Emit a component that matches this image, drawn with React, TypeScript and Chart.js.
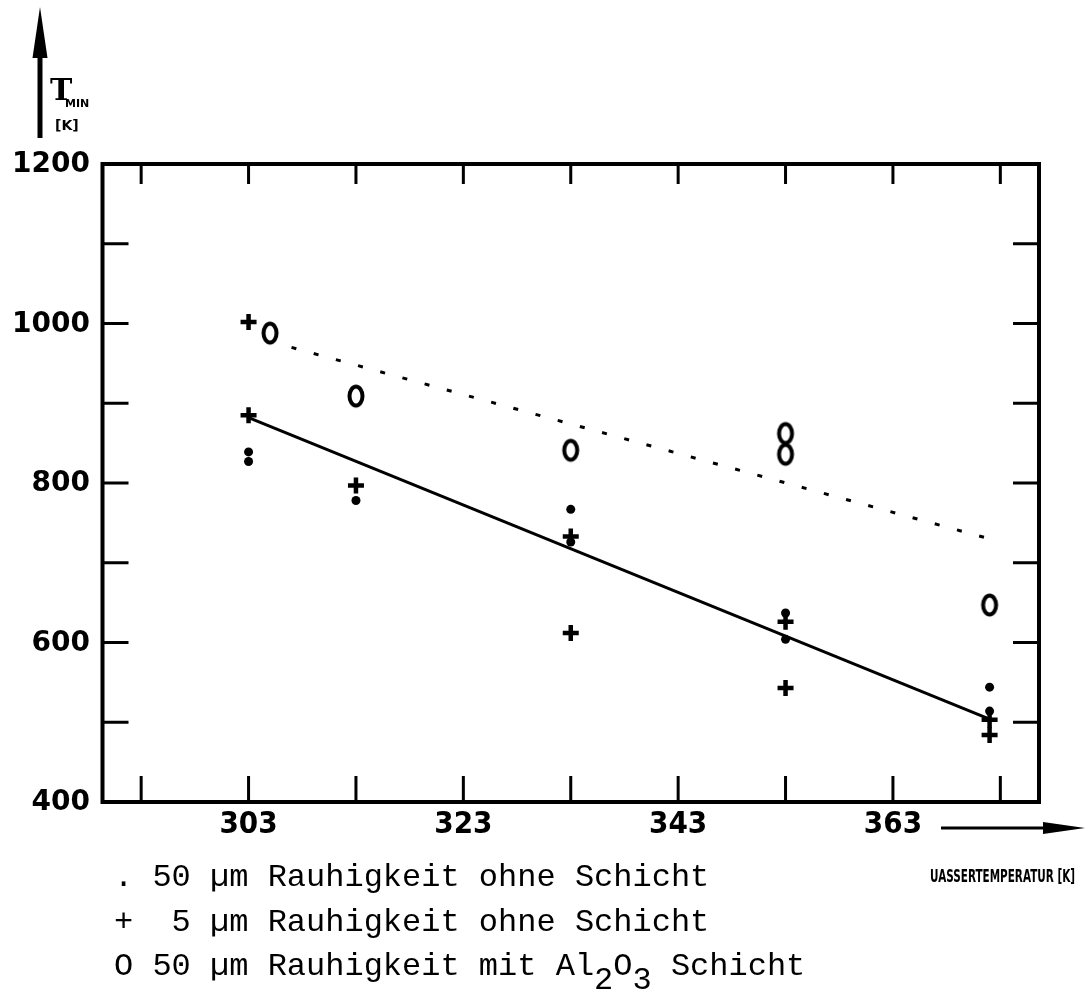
import { useEffect, useRef } from "react";
import { Chart, registerables } from "chart.js";

Chart.register(...registerables);

const W = 1085;
const H = 989;

// Axis ticks (inner tick marks) and labelled values
const xTickMarks = [293, 303, 313, 323, 333, 343, 353, 363, 373];
const xTickLabels = [303, 323, 343, 363];
const yTickMarks = [500, 600, 700, 800, 900, 1000, 1100];
const yTickLabels = [400, 600, 800, 1000, 1200];

// 50 µm Rauhigkeit ohne Schicht (dots)
const rough50X = [303, 303, 313, 333, 333, 353, 353, 372, 372];
const rough50Y = [839, 827, 778, 767, 726, 637, 604, 544, 514];

// 5 µm Rauhigkeit ohne Schicht (crosses)
const rough5X = [303, 303, 313, 333, 333, 353, 353, 372, 372];
const rough5Y = [1002, 885, 797, 733, 612, 626, 543, 503, 484];

// 50 µm Rauhigkeit mit Al2O3 Schicht (rings)
const coatedX = [305, 313, 333, 353, 353, 372];
const coatedY = [988, 909, 841, 862, 836, 647];

// Fitted trend lines
const fitSolidX = [303, 372];
const fitSolidY = [882, 504];
const fitDottedX = [307, 372];
const fitDottedY = [970, 730];

const legendLines = [
  ". 50 µm Rauhigkeit ohne Schicht",
  "+  5 µm Rauhigkeit ohne Schicht",
];
const legendCoated = ["O 50 µm Rauhigkeit mit Al", "2", "O", "3", " Schicht"];

const yAxisTitle = "T";
const yAxisSub = "MIN";
const yAxisUnit = "[K]";
const xAxisTitle = "UASSERTEMPERATUR [K]";

const toPoints = (xs: number[], ys: number[]) => xs.map((x, i) => ({ x, y: ys[i] }));

function makeRing(): HTMLCanvasElement {
  const c = document.createElement("canvas");
  c.width = 22;
  c.height = 28;
  const g = c.getContext("2d")!;
  g.strokeStyle = "#000";
  g.lineWidth = 4;
  g.beginPath();
  g.ellipse(11, 14, 6.5, 9.5, 0, 0, Math.PI * 2);
  g.stroke();
  return c;
}

const framePlugin = {
  id: "frame",
  beforeDatasetsDraw(chart: any) {
    const { ctx, chartArea: a, scales } = chart;
    const xs = scales.x;
    const ys = scales.y;
    ctx.save();
    ctx.strokeStyle = "#000";
    ctx.lineWidth = 4;
    ctx.strokeRect(a.left, a.top, a.right - a.left, a.bottom - a.top);
    ctx.lineWidth = 3;
    ctx.beginPath();
    for (const t of xTickMarks) {
      const px = xs.getPixelForValue(t);
      ctx.moveTo(px, a.top);
      ctx.lineTo(px, a.top + 20);
      ctx.moveTo(px, a.bottom);
      ctx.lineTo(px, a.bottom - 26);
    }
    for (const t of yTickMarks) {
      const py = ys.getPixelForValue(t);
      ctx.moveTo(a.left, py);
      ctx.lineTo(a.left + 26, py);
      ctx.moveTo(a.right, py);
      ctx.lineTo(a.right - 26, py);
    }
    ctx.stroke();
    ctx.restore();
  },
  afterDraw(chart: any) {
    const { ctx, chartArea: a, scales } = chart;
    const xs = scales.x;
    const ys = scales.y;
    ctx.save();
    ctx.fillStyle = "#000";
    ctx.strokeStyle = "#000";

    // tick labels
    ctx.font = "bold 28px 'DejaVu Sans'";
    ctx.textAlign = "right";
    ctx.textBaseline = "middle";
    for (const v of yTickLabels) {
      ctx.fillText(String(v), 90, ys.getPixelForValue(v) + 1);
    }
    ctx.font = "bold 31px 'DejaVu Sans Condensed', 'DejaVu Sans'";
    ctx.textAlign = "center";
    for (const v of xTickLabels) {
      ctx.fillText(String(v), xs.getPixelForValue(v), a.bottom + 23);
    }

    // y axis arrow
    ctx.lineWidth = 5;
    ctx.beginPath();
    ctx.moveTo(40, 138);
    ctx.lineTo(40, 50);
    ctx.stroke();
    ctx.beginPath();
    ctx.moveTo(40, 7);
    ctx.lineTo(47.5, 58);
    ctx.lineTo(32.5, 58);
    ctx.closePath();
    ctx.fill();

    // y axis title
    ctx.textAlign = "left";
    ctx.textBaseline = "alphabetic";
    ctx.font = "bold 30px 'DejaVu Serif'";
    ctx.fillText(yAxisTitle, 50, 100);
    ctx.font = "bold 11px 'DejaVu Sans'";
    ctx.fillText(yAxisSub, 65, 107);
    ctx.font = "bold 14px 'DejaVu Sans'";
    ctx.fillText(yAxisUnit, 55, 130);

    // x axis arrow
    ctx.lineWidth = 3;
    ctx.beginPath();
    ctx.moveTo(941, 828);
    ctx.lineTo(1050, 828);
    ctx.stroke();
    ctx.beginPath();
    ctx.moveTo(1085, 828);
    ctx.lineTo(1043, 822);
    ctx.lineTo(1043, 834);
    ctx.closePath();
    ctx.fill();

    // x axis title
    ctx.font = "bold 17px 'DejaVu Sans'";
    ctx.textBaseline = "middle";
    ctx.fillText(xAxisTitle, 930, 878, 145);

    // legend
    ctx.textBaseline = "alphabetic";
    ctx.font = "32px 'Liberation Mono'";
    ctx.fillText(legendLines[0], 114, 886);
    ctx.fillText(legendLines[1], 114, 931);
    let cx = 114;
    legendCoated.forEach((seg, i) => {
      const sub = i === 1 || i === 3;
      ctx.fillText(seg, cx, sub ? 989 : 975);
      cx += ctx.measureText(seg).width;
    });
    ctx.restore();
  },
};

export default function App() {
  const ref = useRef<HTMLCanvasElement>(null);

  useEffect(() => {
    document.body.style.margin = "0";
    const ring = makeRing();
    const chart = new Chart(ref.current!, {
      type: "scatter",
      data: {
        datasets: [
          {
            type: "line",
            data: toPoints(fitSolidX, fitSolidY),
            borderColor: "#000",
            borderWidth: 3,
            pointRadius: 0,
            fill: false,
          } as any,
          {
            type: "line",
            data: toPoints(fitDottedX, fitDottedY),
            borderColor: "#000",
            borderWidth: 3,
            borderDash: [5, 18],
            pointRadius: 0,
            fill: false,
          } as any,
          {
            data: toPoints(rough50X, rough50Y),
            pointStyle: "circle",
            pointRadius: 4.5,
            backgroundColor: "#000",
            borderWidth: 0,
          },
          {
            data: toPoints(rough5X, rough5Y),
            pointStyle: "cross",
            pointRadius: 8,
            borderColor: "#000",
            borderWidth: 4.5,
          },
          {
            data: toPoints(coatedX, coatedY),
            pointStyle: ring as any,
            pointRadius: 10,
          },
        ],
      },
      options: {
        responsive: false,
        animation: false,
        devicePixelRatio: 1,
        layout: { padding: { left: 102.5, right: 46, top: 164, bottom: 187 } },
        plugins: { legend: { display: false }, tooltip: { enabled: false } },
        scales: {
          x: { type: "linear", min: 289.4, max: 376.6, display: false },
          y: { type: "linear", min: 400, max: 1200, display: false },
        },
      },
      plugins: [framePlugin],
    });
    return () => chart.destroy();
  }, []);

  return (
    <div style={{ width: W, height: H, background: "#fff" }}>
      <canvas ref={ref} width={W} height={H} style={{ display: "block", width: W, height: H }} />
    </div>
  );
}
